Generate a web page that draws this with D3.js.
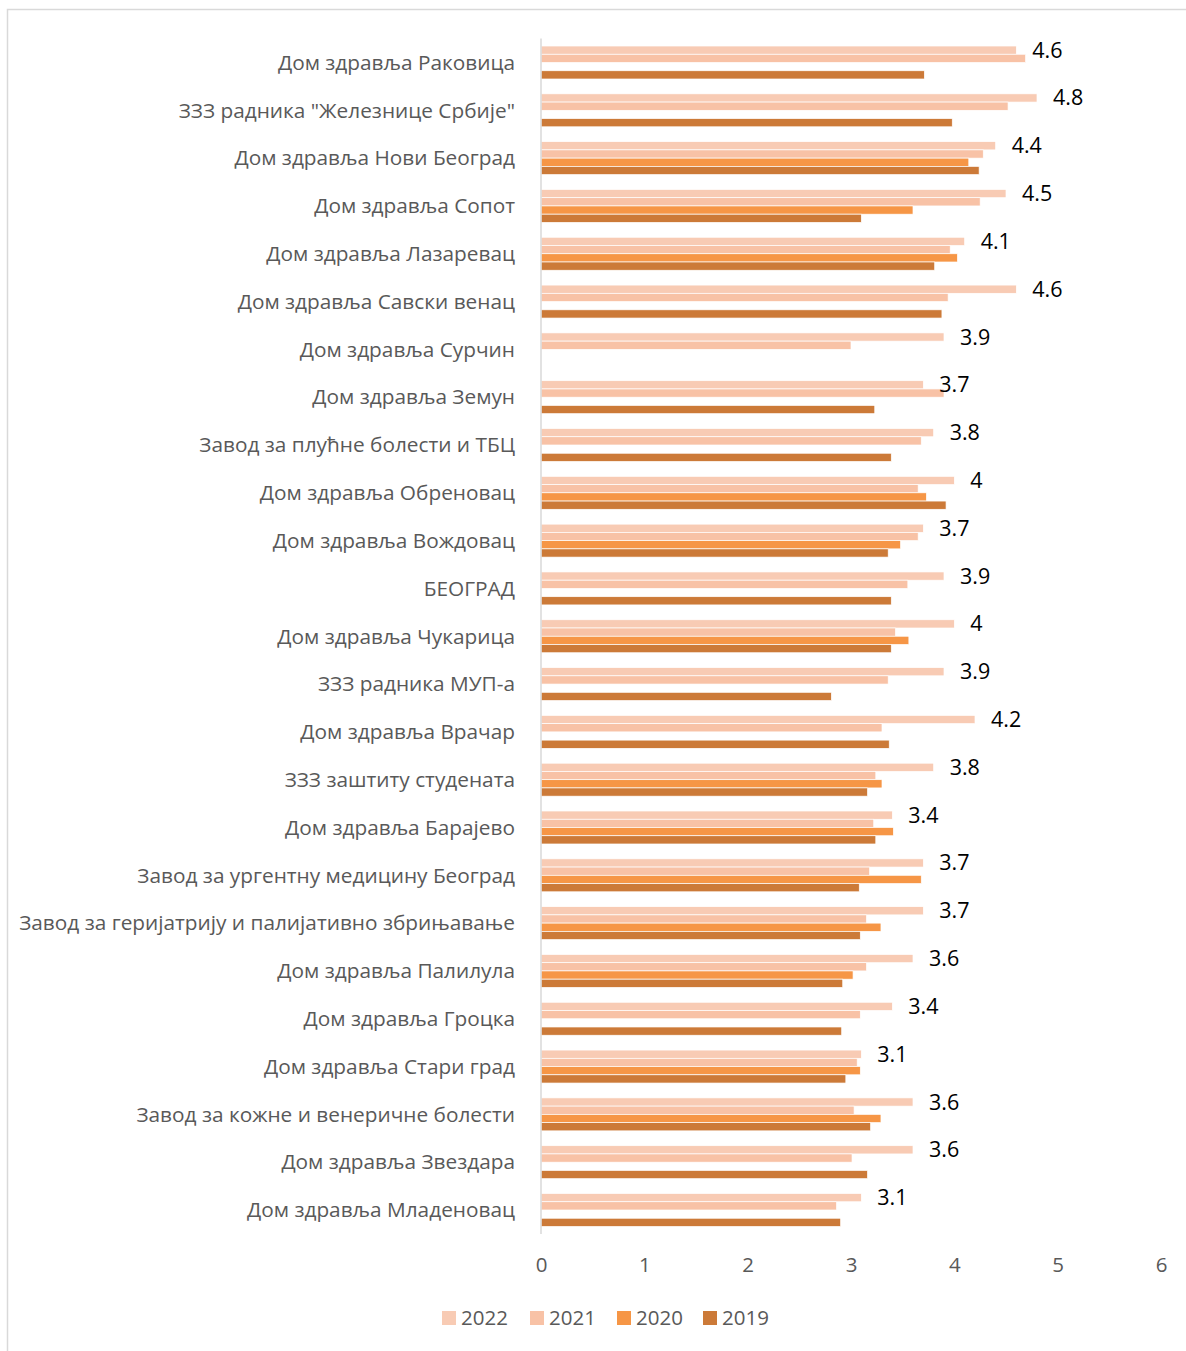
<!DOCTYPE html>
<html>
<head>
<meta charset="utf-8">
<script src="https://cdn.jsdelivr.net/npm/d3@7"></script>
<style>
  html, body { margin: 0; padding: 0; background: #fff; }
  svg { display: block; }
</style>
</head>
<body>
<svg id="chart" width="1186" height="1351"></svg>
<script>
const categories = [
  "Дом здравља Раковица",
  "ЗЗЗ радника \"Железнице Србије\"",
  "Дом здравља Нови Београд",
  "Дом здравља Сопот",
  "Дом здравља Лазаревац",
  "Дом здравља Савски венац",
  "Дом здравља Сурчин",
  "Дом здравља Земун",
  "Завод за плућне болести и ТБЦ",
  "Дом здравља Обреновац",
  "Дом здравља Вождовац",
  "БЕОГРАД",
  "Дом здравља Чукарица",
  "ЗЗЗ радника МУП-а",
  "Дом здравља Врачар",
  "ЗЗЗ заштиту студената",
  "Дом здравља Барајево",
  "Завод за ургентну медицину Београд",
  "Завод за геријатрију и палијативно збрињавање",
  "Дом здравља Палилула",
  "Дом здравља Гроцка",
  "Дом здравља Стари град",
  "Завод за кожне и венеричне болести",
  "Дом здравља Звездара",
  "Дом здравља Младеновац"
];

const seriesNames = ["2022", "2021", "2020", "2019"];

const values2022 = [4.6, 4.8, 4.4, 4.5, 4.1, 4.6, 3.9, 3.7, 3.8, 4.0, 3.7, 3.9, 4.0, 3.9, 4.2, 3.8, 3.4, 3.7, 3.7, 3.6, 3.4, 3.1, 3.6, 3.6, 3.1];
const values2021 = [4.69, 4.52, 4.28, 4.25, 3.96, 3.94, 3.00, 3.90, 3.68, 3.65, 3.65, 3.55, 3.43, 3.36, 3.30, 3.24, 3.22, 3.18, 3.15, 3.15, 3.09, 3.06, 3.03, 3.01, 2.86];
const values2020 = [null, null, 4.14, 3.60, 4.03, null, null, null, null, 3.73, 3.48, null, 3.56, null, null, 3.30, 3.41, 3.68, 3.29, 3.02, null, 3.09, 3.29, null, null];
const values2019 = [3.71, 3.98, 4.24, 3.10, 3.81, 3.88, null, 3.23, 3.39, 3.92, 3.36, 3.39, 3.39, 2.81, 3.37, 3.16, 3.24, 3.08, 3.09, 2.92, 2.91, 2.95, 3.19, 3.16, 2.90];

const xTicks = [0, 1, 2, 3, 4, 5, 6];

const seriesValues = [values2022, values2021, values2020, values2019];
const colors = ["#F8CBB4", "#F8C2A6", "#F69646", "#CC7A38"];

const svg = d3.select("#chart");
const FONT = "'Open Sans', 'Noto Sans', sans-serif";

// frame
svg.append("rect")
  .attr("x", 7.5).attr("y", 9.5)
  .attr("width", 1200).attr("height", 1400)
  .attr("fill", "none").attr("stroke", "#d9d9d9").attr("stroke-width", 1.5);

const x = d3.scaleLinear().domain([0, 6]).range([541, 1161]);
const y = d3.scaleBand().domain(categories).range([38.6, 1233.9]).paddingInner(0).paddingOuter(0);
const ys = d3.scaleBand().domain(seriesNames).range([0, y.bandwidth()]).paddingInner(0).paddingOuter(0.9);

// bars
const groups = svg.append("g").selectAll("g")
  .data(categories)
  .join("g")
  .attr("transform", d => `translate(0,${y(d)})`);

groups.each(function(cat, ci) {
  const g = d3.select(this);
  seriesNames.forEach((s, si) => {
    const v = seriesValues[si][ci];
    if (v == null) return;
    g.append("rect")
      .attr("x", x(0))
      .attr("y", ys(s))
      .attr("width", x(v) - x(0))
      .attr("height", ys.bandwidth())
      .attr("fill", colors[si])
      .attr("stroke", "#fff")
      .attr("stroke-width", 0.7);
  });
  // data label on the 2022 bar
  g.append("text")
    .attr("x", x(values2022[ci]) + 16)
    .attr("y", ys(seriesNames[0]) + ys.bandwidth() / 2)
    .attr("dy", "0.35em")
    .attr("font-family", FONT)
    .attr("font-size", 21.5)
    .attr("fill", "#000")
    .text(d3.format("~g")(values2022[ci]));
});

// vertical axis line
svg.append("line")
  .attr("x1", x(0)).attr("x2", x(0))
  .attr("y1", y.range()[0]).attr("y2", y.range()[1])
  .attr("stroke", "#d9d9d9").attr("stroke-width", 1.5);

// category labels
svg.append("g").selectAll("text")
  .data(categories)
  .join("text")
  .attr("x", 515)
  .attr("y", d => y(d) + y.bandwidth() / 2)
  .attr("dy", "0.35em")
  .attr("text-anchor", "end")
  .attr("font-family", FONT)
  .attr("font-size", 20.8)
  .attr("fill", "#595959")
  .text(d => d);

// x axis tick labels
const xAxis = d3.axisBottom(x).tickValues(xTicks).tickSize(0).tickPadding(0).tickFormat(d3.format("d"));
const ax = svg.append("g").attr("transform", "translate(0,1257)").call(xAxis);
ax.select(".domain").remove();
ax.selectAll("text")
  .attr("font-family", FONT)
  .attr("font-size", 20.5)
  .attr("fill", "#595959");

// legend
const legendX = [442, 530, 617, 703];
const legend = svg.append("g").selectAll("g")
  .data(seriesNames)
  .join("g")
  .attr("transform", (d, i) => `translate(${legendX[i]},1311)`);
legend.append("rect")
  .attr("width", 14).attr("height", 14)
  .attr("fill", (d, i) => colors[i]);
legend.append("text")
  .attr("x", 19).attr("y", 7).attr("dy", "0.35em")
  .attr("font-family", FONT)
  .attr("font-size", 20.5)
  .attr("fill", "#595959")
  .text(d => d);
</script>
</body>
</html>
